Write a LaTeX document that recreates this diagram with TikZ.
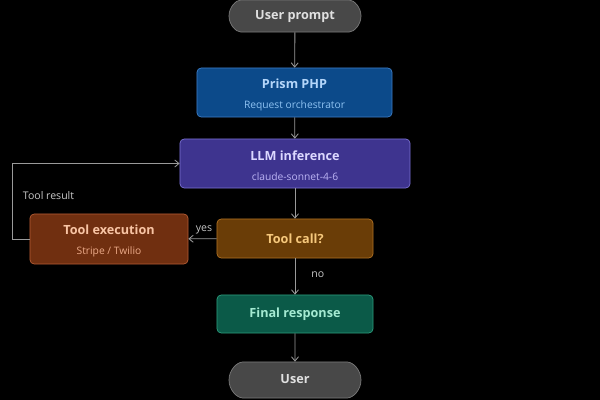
\documentclass[tikz,border=0pt]{standalone}
\usepackage{fontspec}
\setmainfont{Open Sans}
\usetikzlibrary{arrows.meta, shapes.misc}
\definecolor{cTerm}{HTML}{484848}
\definecolor{bTerm}{HTML}{7A7A7A}
\definecolor{tTerm}{HTML}{E0E0E0}
\definecolor{cPrism}{HTML}{0C4A8A}
\definecolor{bPrism}{HTML}{3D7CC4}
\definecolor{tPrism}{HTML}{B4D6FA}
\definecolor{sPrism}{HTML}{8EC2F2}
\definecolor{cLLM}{HTML}{3E348F}
\definecolor{bLLM}{HTML}{7A70D2}
\definecolor{tLLM}{HTML}{DCD8FF}
\definecolor{sLLM}{HTML}{BCB4F4}
\definecolor{cCall}{HTML}{6A3D07}
\definecolor{bCall}{HTML}{B07022}
\definecolor{tCall}{HTML}{F6C87C}
\definecolor{cExec}{HTML}{702F10}
\definecolor{bExec}{HTML}{B45C34}
\definecolor{tExec}{HTML}{F8C4A4}
\definecolor{sExec}{HTML}{ECAA88}
\definecolor{cFinal}{HTML}{0B5A48}
\definecolor{bFinal}{HTML}{2C9C7C}
\definecolor{tFinal}{HTML}{A4EAD2}
\definecolor{cArr}{HTML}{9A9A9A}
\definecolor{tLbl}{HTML}{C8C8C8}
\tikzset{
  box/.style={draw, rounded corners=3pt, align=center, line width=0.5pt,
              inner sep=0pt, font=\fontsize{9}{10}\selectfont\bfseries},
  termbox/.style={box, rounded rectangle, fill=cTerm, draw=bTerm, text=tTerm,
                  minimum width=3.3cm, text depth=0.4ex},
  prismbox/.style={box, fill=cPrism, draw=bPrism, text=tPrism,
                   minimum width=4.875cm, minimum height=1.225cm},
  llmbox/.style={box, fill=cLLM, draw=bLLM, text=tLLM,
                 minimum width=5.75cm, minimum height=1.225cm},
  callbox/.style={box, fill=cCall, draw=bCall, text=tCall,
                  minimum width=3.9cm, minimum height=0.975cm},
  execbox/.style={box, fill=cExec, draw=bExec, text=tExec,
                  minimum width=3.95cm, minimum height=1.25cm},
  finalbox/.style={box, fill=cFinal, draw=bFinal, text=tFinal,
                   minimum width=3.9cm, minimum height=0.95cm},
  arr/.style={-{Straight Barb[length=3pt,width=5pt]}, draw=cArr, line width=0.6pt},
  lbl/.style={font=\fontsize{7.5}{8}\selectfont, text=tLbl},
}
\newcommand{\subline}[1]{{\fontsize{7.3}{8}\selectfont\mdseries #1}}

\begin{document}
\begin{tikzpicture}[x=0.025cm, y=-0.025cm]
% Canvas
\fill[black] (0,0) rectangle (600,400);
\useasboundingbox (0,0) rectangle (600,400);

% Main column
\node[termbox, minimum height=0.8cm] (prompt) at (295, 16) {User prompt};
\node[prismbox] (prism) at (294.5, 92.5)
  {\rule{0pt}{10pt}Prism PHP\\[4pt]\subline{\color{sPrism}Request orchestrator}};
\node[llmbox] (llm) at (295, 163.5)
  {\rule{0pt}{10pt}LLM inference\\[4pt]\subline{\color{sLLM}claude-sonnet-4-6}};
\node[callbox] (call) at (295, 238.5) {Tool call?};
\node[finalbox] (final) at (295, 314) {Final response};
\node[termbox, minimum height=0.9cm] (user) at (295, 380) {User};

% Tool branch
\node[execbox] (exec) at (109, 239)
  {\rule{0pt}{10pt}Tool execution\\[4pt]\subline{\color{sExec}Stripe / Twilio}};
\coordinate (loop) at (12, 239);

% Connectors
\draw[arr] (prompt) -- (prism);
\draw[arr] (prism) -- (llm);
\draw[arr] (llm) -- (call);
\draw[arr] (call) -- node[lbl, pos=0.45, above] {yes} (exec);
\draw[arr] (call) -- node[lbl, pos=0.45, right, xshift=8pt] {no} (final);
\draw[arr] (final) -- (user);
\draw[arr] (exec.west) -- (loop) |- (llm.west);

% Loop label
\node[lbl, anchor=west] (reslbl) at (18, 196) {Tool result};

\end{tikzpicture}
\end{document}
